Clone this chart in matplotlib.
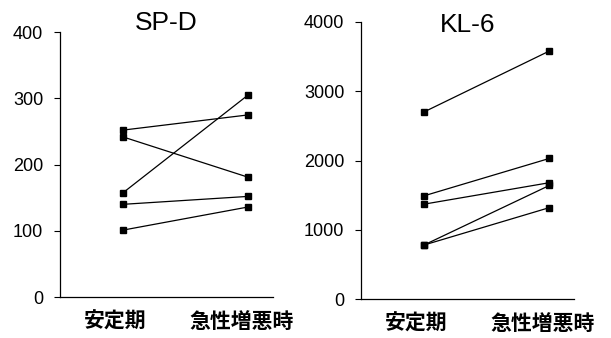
import matplotlib
matplotlib.use('Agg')
import matplotlib.pyplot as plt

# categories on the x axis
categories = ['安定期', '急性増悪時']

# SP-D values per patient: (stable, exacerbation)
spd_stable = [252, 242, 157, 140, 101]
spd_acute = [275, 181, 305, 152, 136]
spd_ticks = [0, 100, 200, 300, 400]

# KL-6 values per patient
kl6_stable = [2700, 1490, 1370, 780, 780]
kl6_acute = [3580, 2030, 1680, 1640, 1320]
kl6_ticks = [0, 1000, 2000, 3000, 4000]

cjk = ['Noto Sans CJK JP', 'DejaVu Sans']
num_font = 'Liberation Sans'

fig = plt.figure(figsize=(6.11, 3.38), dpi=100)
ax1 = fig.add_axes([0.098, 0.121, 0.349, 0.784])
ax2 = fig.add_axes([0.591, 0.115, 0.349, 0.820])


def draw_panel(ax, stable, acute, ticks, title, title_y):
    for a, b in zip(stable, acute):
        ax.plot([0, 1], [a, b], color='black', lw=0.9,
                marker='s', markersize=4.5, markerfacecolor='black',
                markeredgecolor='black')
    ax.set_xlim(-0.5, 1.2)
    ax.set_ylim(ticks[0], ticks[-1])
    ax.set_yticks(ticks)
    ax.set_yticklabels([str(t) for t in ticks], fontsize=13, family=num_font)
    ax.set_xticks([-0.06, 0.95])
    ax.set_xticklabels(categories, fontsize=15, fontweight='bold', family=cjk)
    ax.tick_params(axis='x', length=0, pad=10)
    ax.tick_params(axis='y', length=4, width=0.8, direction='out', pad=8)
    ax.spines['top'].set_visible(False)
    ax.spines['right'].set_visible(False)
    ax.spines['left'].set_linewidth(0.9)
    ax.spines['bottom'].set_linewidth(0.9)
    ax.set_title(title, fontsize=19, family=num_font, y=title_y)


draw_panel(ax1, spd_stable, spd_acute, spd_ticks, 'SP-D', 0.975)
draw_panel(ax2, kl6_stable, kl6_acute, kl6_ticks, 'KL-6', 0.935)

fig.savefig('out.png', dpi=100)
